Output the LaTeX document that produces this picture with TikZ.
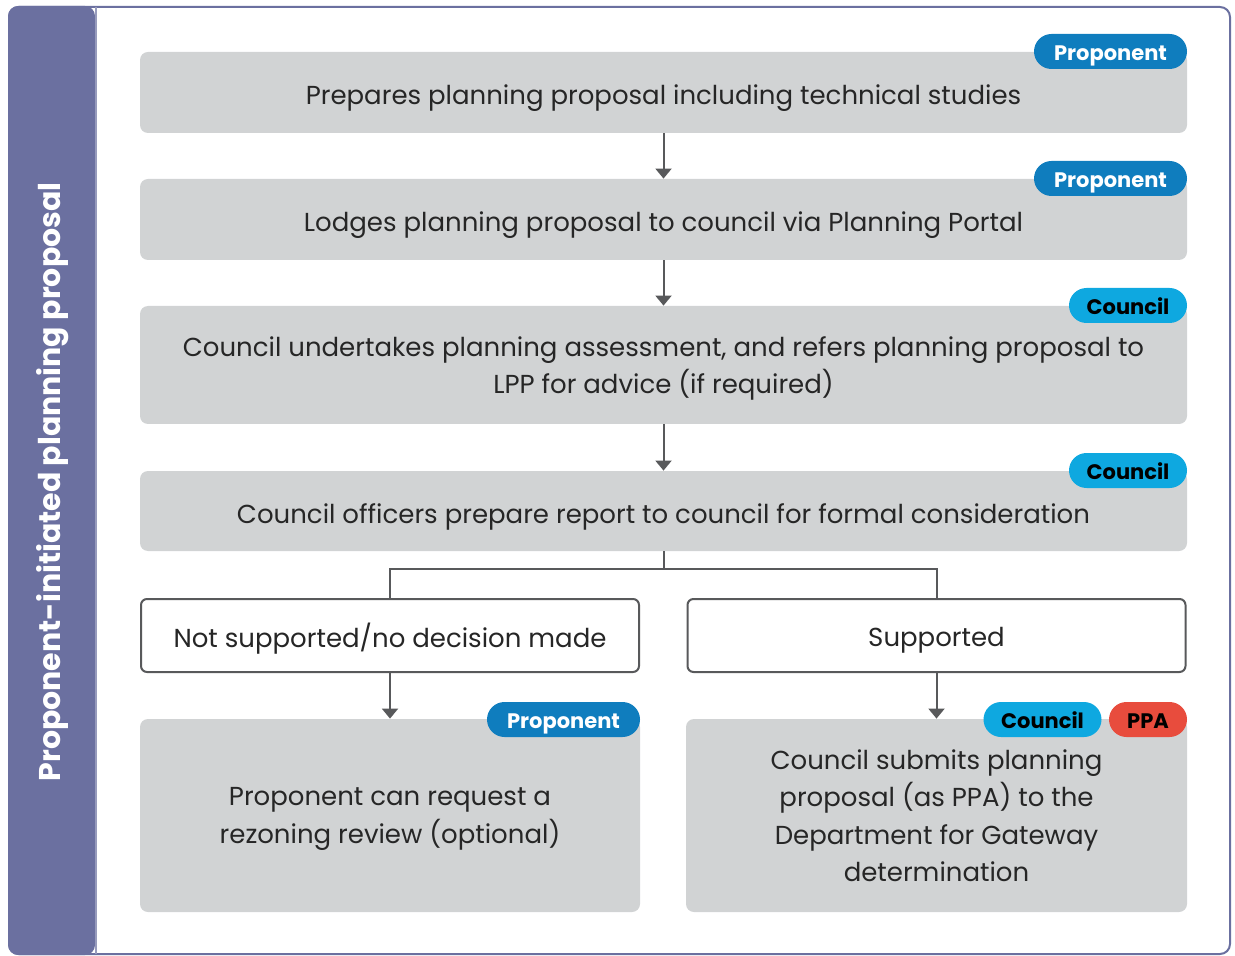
\documentclass[tikz,border=0pt]{standalone}
\usepackage{fontspec}
\setmainfont{Poppins}
\usetikzlibrary{arrows.meta}
\definecolor{band}{HTML}{6B70A0}
\definecolor{boxgray}{HTML}{D1D3D4}
\definecolor{linegray}{HTML}{58595B}
\definecolor{propblue}{HTML}{0F7DBE}
\definecolor{councilblue}{HTML}{0EA8E0}
\definecolor{ppared}{HTML}{E84C3D}
\tikzset{
	stage/.style={fill=boxgray, rounded corners=4pt, inner sep=0pt, align=center,
		text depth=0pt, execute at begin node={\rule{0pt}{12pt}},
		font=\fontsize{13}{18.75}\selectfont, text=black!85},
	choice/.style={draw=linegray, line width=1pt, fill=white, rounded corners=3pt,
		inner sep=0pt, minimum width=249pt, minimum height=36.5pt, text depth=0pt,
		execute at begin node={\rule{0pt}{11pt}},
		font=\fontsize{13}{18.75}\selectfont, text=black!85},
	tag/.style={rounded corners=8.75pt, minimum height=17.5pt, inner sep=0pt,
		text height=8.9pt, text depth=0pt, font=\fontsize{10.5}{12}\selectfont\bfseries},
	proponent/.style={tag, fill=propblue, text=white, minimum width=76.5pt},
	council/.style={tag, fill=councilblue, text=black, minimum width=59pt},
	ppa/.style={tag, fill=ppared, text=black, minimum width=39pt},
	flow/.style={draw=linegray, line width=1pt, -{Triangle[length=5pt,width=8pt]}},
}
\begin{document}
\begin{tikzpicture}[x=0.5pt,y=-0.5pt]
	\useasboundingbox (0,0) rectangle (1235,956);
	% frame and side band
	\draw[band, line width=1pt, rounded corners=5pt] (9,7) rectangle (1230,954);
	\fill[band, rounded corners=5pt] (8,6) -- (8,955) -- (95,955) -- (95,6) -- cycle;
	\draw[band!70, line width=1pt] (96,7) -- (96,954);
	\node[rotate=90, text=white, font=\fontsize{15}{18}\selectfont\bfseries] (title) at (53,482) {Proponent-initiated planning proposal};
	% main column
	\node[stage, minimum width=523.5pt, minimum height=40.5pt] (prep) at (663.5,92.5) {Prepares planning proposal including technical studies};
	\node[stage, minimum width=523.5pt, minimum height=40.5pt] (lodge) at (663.5,219.5) {Lodges planning proposal to council via Planning Portal};
	\node[stage, minimum width=523.5pt, minimum height=59pt] (assess) at (663.5,365) {Council undertakes planning assessment, and refers planning proposal to\\LPP for advice (if required)};
	\node[stage, minimum width=523.5pt, minimum height=40pt] (report) at (663.5,511) {Council officers prepare report to council for formal consideration};
	% outcomes
	\node[choice] (nosupp) at (390,635.5) {Not supported/no decision made};
	\node[choice] (supp) at (936.5,635.5) {Supported};
	\node[stage, minimum width=250pt, minimum height=96.5pt] (review) at (390,815.5) {Proponent can request a\\rezoning review (optional)};
	\node[stage, minimum width=250.5pt, minimum height=96.5pt] (submit) at (936.5,815.5) {Council submits planning\\proposal (as PPA) to the\\Department for Gateway\\determination};
	% tags
	\node[proponent] (tagprep) at (1110.5,51.5) {Proponent};
	\node[proponent] (taglodge) at (1110.5,178.5) {Proponent};
	\node[council] (tagassess) at (1128,305.5) {Council};
	\node[council] (tagreport) at (1128,470.5) {Council};
	\node[proponent] (tagreview) at (563.5,719.5) {Proponent};
	\node[council] (tagsubmit) at (1042.5,719.5) {Council};
	\node[ppa] (tagppa) at (1148,719.5) {PPA};
	% connectors
	\draw[flow] (prep) -- (lodge);
	\draw[flow] (lodge) -- (assess);
	\draw[flow] (assess) -- (report);
	\coordinate (split) at (663.5,569);
	\draw[draw=linegray, line width=1pt] (report) -- (split);
	\draw[draw=linegray, line width=1pt] (nosupp.north) |- (split) -| (supp.north);
	\draw[flow] (nosupp) -- (review);
	\draw[flow] (supp) -- (submit);
\end{tikzpicture}
\end{document}
